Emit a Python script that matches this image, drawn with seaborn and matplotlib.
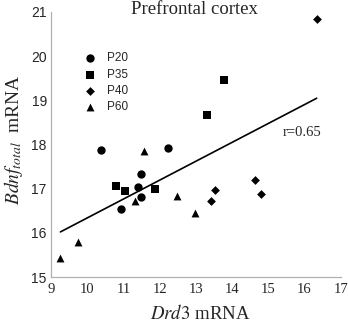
import pandas as pd
import matplotlib
matplotlib.use("Agg")
import matplotlib.pyplot as plt
import seaborn as sns

# values
p20_x = [10.38, 12.22, 11.48, 11.41, 11.50, 10.93]
p20_y = [17.87, 17.91, 17.33, 17.03, 16.81, 16.53]
p35_x = [13.78, 13.32, 10.79, 11.04, 11.88]
p35_y = [19.46, 18.66, 17.05, 16.94, 16.99]
p40_x = [16.34, 13.41, 13.53, 14.63, 14.79]
p40_y = [20.85, 16.72, 16.96, 17.20, 16.87]
p60_x = [11.57, 11.32, 12.48, 12.97, 9.74, 9.26]
p60_y = [17.86, 16.72, 16.83, 16.45, 15.79, 15.44]
ages = ["P20", "P35", "P40", "P60"]
x_ticks = list(range(9, 18))
y_ticks = list(range(15, 22))

df = pd.concat([
    pd.DataFrame({"drd3": p20_x, "bdnf": p20_y, "age": "P20"}),
    pd.DataFrame({"drd3": p35_x, "bdnf": p35_y, "age": "P35"}),
    pd.DataFrame({"drd3": p40_x, "bdnf": p40_y, "age": "P40"}),
    pd.DataFrame({"drd3": p60_x, "bdnf": p60_y, "age": "P60"}),
], ignore_index=True)

sns.set_style("white")
plt.rcParams["mathtext.fontset"] = "stix"
serif = ["Liberation Serif", "DejaVu Serif"]
sans = ["Liberation Sans", "DejaVu Sans"]

fig = plt.figure(figsize=(3.48, 3.24), dpi=100)
ax = fig.add_axes([0.1466, 0.145, 0.832, 0.818])

markers = {"P20": "o", "P35": "s", "P40": "D", "P60": "^"}
sizes = {"P20": 36, "P35": 34, "P40": 20, "P60": 32}
for a in ages:
    sub = df[df["age"] == a]
    sns.scatterplot(data=sub, x="drd3", y="bdnf", marker=markers[a], s=sizes[a],
                    color="black", edgecolor="black", linewidth=0, label=a, ax=ax)

sns.regplot(data=df, x="drd3", y="bdnf", scatter=False, ci=None,
            line_kws={"color": "black", "linewidth": 1.2}, ax=ax)

ax.set_xlim(9, 17)
ax.set_ylim(15, 21)
ax.set_xticks(x_ticks)
ax.set_yticks(y_ticks)
for lab in ax.get_xticklabels():
    lab.set_family(serif)
    lab.set_fontsize(10.5)
for lab in ax.get_yticklabels():
    lab.set_family(sans)
    lab.set_fontsize(10)
ax.tick_params(direction="in", length=3, width=0.8, color="#b0b0b0", pad=3)
ax.tick_params(axis="x", pad=4)

sns.despine(ax=ax)
for sp in ["left", "bottom"]:
    ax.spines[sp].set_color("#b0b0b0")
    ax.spines[sp].set_linewidth(0.9)

ax.set_xlabel(r"$\mathit{Drd3}$ mRNA", family=serif, fontsize=13.5)
ax.set_ylabel(r"$\mathit{Bdnf}_{\mathit{total}}$  mRNA", family=serif, fontsize=14)
ax.xaxis.set_label_coords(0.514, -0.102)
ax.yaxis.set_label_coords(-0.09, 0.52)

ax.text(0.497, 1.01, "Prefrontal cortex", transform=ax.transAxes, ha="center",
        va="center", family=serif, fontsize=13.5)
ax.text(15.93, 18.28, "r=0.65", ha="center", va="center", family=serif, fontsize=10.5)

leg = ax.legend(loc="upper left", bbox_to_anchor=(0.094, 0.865), frameon=False,
                prop={"family": sans, "size": 8.5}, handletextpad=0.8,
                labelspacing=0.35, handlelength=1.2, borderaxespad=0)

fig.savefig("out.png", dpi=100)
